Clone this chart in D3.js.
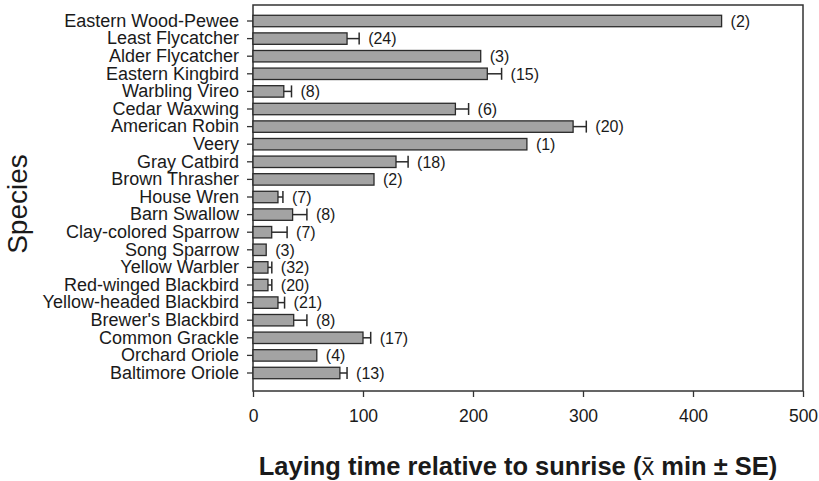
<!DOCTYPE html>
<html>
<head>
<meta charset="utf-8">
<script src="https://cdn.jsdelivr.net/npm/d3@7"></script>
<style>
  html, body { margin: 0; padding: 0; background: #fff; }
  svg { display: block; font-family: "Liberation Sans", Arial, sans-serif; }
</style>
</head>
<body>
<svg id="chart" width="819" height="481"></svg>
<script>
const species = [
  "Eastern Wood-Pewee", "Least Flycatcher", "Alder Flycatcher", "Eastern Kingbird",
  "Warbling Vireo", "Cedar Waxwing", "American Robin", "Veery", "Gray Catbird",
  "Brown Thrasher", "House Wren", "Barn Swallow", "Clay-colored Sparrow",
  "Song Sparrow", "Yellow Warbler", "Red-winged Blackbird", "Yellow-headed Blackbird",
  "Brewer's Blackbird", "Common Grackle", "Orchard Oriole", "Baltimore Oriole"
];
const meanMinutes = [426, 85.5, 207, 213, 28, 184, 291, 249, 130, 110, 22.7, 36, 17, 12, 13.6, 13.6, 22.7, 37, 100, 58, 79];
const seMinutes   = [0, 11, 0, 13, 7, 12, 12, 0, 11, 0, 4.5, 13, 14, 0, 3.5, 3.5, 6, 12, 7, 0, 6.5];
const sampleSize  = [2, 24, 3, 15, 8, 6, 20, 1, 18, 2, 7, 8, 7, 3, 32, 20, 21, 8, 17, 4, 13];
const xTicks = [0, 100, 200, 300, 400, 500];

const data = species.map((s, i) => ({ s, m: meanMinutes[i], se: seMinutes[i], n: sampleSize[i] }));

const svg = d3.select("#chart");
const pL = 253, pR = 803, pT = 5, pB = 391;
const ink = "#1a1a1a";

const x = d3.scaleLinear().domain([0, 500]).range([pL, pR]);
const y = d3.scaleBand().domain(species).range([12.2, 381.8]).paddingInner(0.35).paddingOuter(0.175);

// frame
svg.append("rect").attr("x", pL).attr("y", pT).attr("width", pR - pL).attr("height", pB - pT)
  .attr("fill", "none").attr("stroke", "#333").attr("stroke-width", 1.5);

// bars
svg.append("g").selectAll("rect").data(data).join("rect")
  .attr("x", x(0)).attr("y", d => y(d.s))
  .attr("width", d => x(d.m) - x(0)).attr("height", y.bandwidth())
  .attr("fill", "#a3a3a3").attr("stroke", "#2a2a2a").attr("stroke-width", 1.3);

// error bars
const eb = svg.append("g").attr("stroke", "#2a2a2a").attr("stroke-width", 1.5);
data.filter(d => d.se > 0).forEach(d => {
  const cy = y(d.s) + y.bandwidth() / 2;
  eb.append("line").attr("x1", x(d.m)).attr("x2", x(d.m + d.se)).attr("y1", cy).attr("y2", cy);
  eb.append("line").attr("x1", x(d.m + d.se)).attr("x2", x(d.m + d.se)).attr("y1", cy - 6).attr("y2", cy + 6);
});

// n labels
svg.append("g").selectAll("text").data(data).join("text")
  .attr("x", d => x(d.m + d.se) + 9)
  .attr("y", d => y(d.s) + y.bandwidth() / 2)
  .attr("dy", "0.36em")
  .attr("font-size", 16).attr("fill", ink)
  .text(d => `(${d.n})`);

// y axis
const yAxis = svg.append("g").attr("transform", `translate(${pL},0)`)
  .call(d3.axisLeft(y).tickSize(6).tickPadding(8));
yAxis.select(".domain").remove();
yAxis.selectAll(".tick line").attr("stroke", "#333").attr("stroke-width", 1.3);
yAxis.selectAll(".tick text").attr("font-size", 18).attr("fill", ink)
  .attr("font-family", "'Liberation Sans', Arial, sans-serif");

// x axis
const xAxis = svg.append("g").attr("transform", `translate(0,${pB})`)
  .call(d3.axisBottom(x).tickValues(xTicks).tickSize(6).tickPadding(13).tickFormat(d3.format("d")));
xAxis.select(".domain").remove();
xAxis.selectAll(".tick line").attr("stroke", "#333").attr("stroke-width", 1.3);
xAxis.selectAll(".tick text").attr("font-size", 17.5).attr("fill", ink)
  .attr("font-family", "'Liberation Sans', Arial, sans-serif");

// axis titles
svg.append("text").attr("transform", "translate(27,204) rotate(-90)")
  .attr("text-anchor", "middle").attr("font-size", 28).attr("fill", ink).text("Species");

const xt = svg.append("text").attr("x", 518).attr("y", 475).attr("text-anchor", "middle")
  .attr("font-size", 25.5).attr("font-weight", "bold").attr("fill", ink);
xt.append("tspan").text("Laying time relative to sunrise (");
xt.append("tspan").attr("font-weight", "normal").text("x\u0304");
xt.append("tspan").text(" min ± SE)");
</script>
</body>
</html>
